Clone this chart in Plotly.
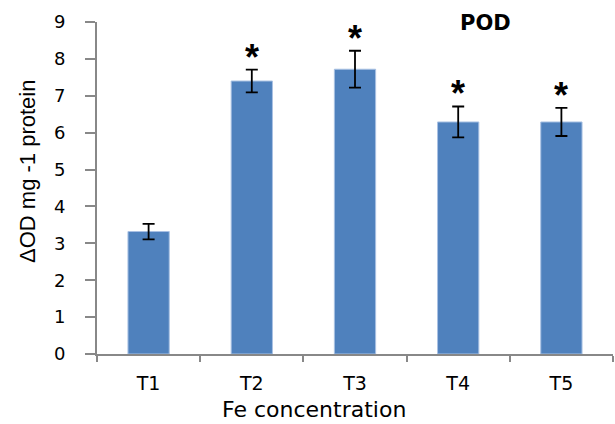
import plotly.graph_objects as go

categories = ["T1", "T2", "T3", "T4", "T5"]
values = [3.32, 7.40, 7.72, 6.29, 6.29]
errors = [0.21, 0.31, 0.50, 0.42, 0.38]
significant = [False, True, True, True, True]
y_ticks = [0, 1, 2, 3, 4, 5, 6, 7, 8, 9]

L, R, T, B = 97, 2, 22, 70
W, H = 615, 424
pw, ph = W - L - R, H - T - B
WIDE = "DejaVu Sans, Verdana, sans-serif"
ARIAL = "Arial, Liberation Sans, sans-serif"

def px_x(x):
    return (x - L) / pw

def px_y(y):
    return (H - B - y) / ph

fig = go.Figure()
fig.add_trace(go.Bar(
    x=categories, y=values,
    width=0.4,
    marker=dict(color="#4F81BD", line=dict(color="#A9C1E3", width=1)),
    error_y=dict(type="data", array=errors, color="black", thickness=1.8, width=6),
))

for c, v, e, s in zip(categories, values, errors, significant):
    if s:
        fig.add_annotation(x=c, y=v + e, text="<b>*</b>", showarrow=False,
                           yanchor="bottom", yshift=-10,
                           font=dict(family=ARIAL, size=36, color="black"))

fig.add_annotation(x=px_x(485), y=px_y(23), xref="paper", yref="paper", text="<b>POD</b>",
                   showarrow=False, font=dict(family=WIDE, size=21, color="black"),
                   xanchor="center", yanchor="middle")
fig.add_annotation(x=px_x(28), y=px_y(172), xref="paper", yref="paper", text="ΔOD mg -1 protein",
                   showarrow=False, textangle=-90, xanchor="center", yanchor="middle",
                   font=dict(family=ARIAL, size=22, color="black"))
fig.add_annotation(x=px_x(314), y=px_y(410), xref="paper", yref="paper", text="Fe concentration",
                   showarrow=False, xanchor="center", yanchor="middle",
                   font=dict(family=WIDE, size=22, color="black"))

fig.update_layout(
    width=W, height=H,
    margin=dict(l=L, r=R, t=T, b=B, autoexpand=False),
    plot_bgcolor="white", paper_bgcolor="white",
    showlegend=False,
    font=dict(family=WIDE, size=18, color="black"),
    xaxis=dict(showline=True, linecolor="#888888", linewidth=2, automargin=False,
               ticks="outside", tickson="boundaries", ticklen=6, tickcolor="#888888", tickwidth=2,
               range=[-0.5, 4.5], showgrid=False, ticklabelstandoff=11,
               tickfont=dict(family=WIDE, size=19)),
    yaxis=dict(showline=True, linecolor="#888888", linewidth=2, automargin=False,
               ticks="outside", ticklen=10, tickcolor="#888888", tickwidth=2,
               range=[0, 9], tickvals=y_ticks, showgrid=False, zeroline=False,
               ticklabelstandoff=16, tickfont=dict(family=WIDE, size=18)),
)
fig.write_html("out.html", config={"displayModeBar": False},
               post_script="document.body.style.margin='0';document.body.style.overflow='hidden';")
